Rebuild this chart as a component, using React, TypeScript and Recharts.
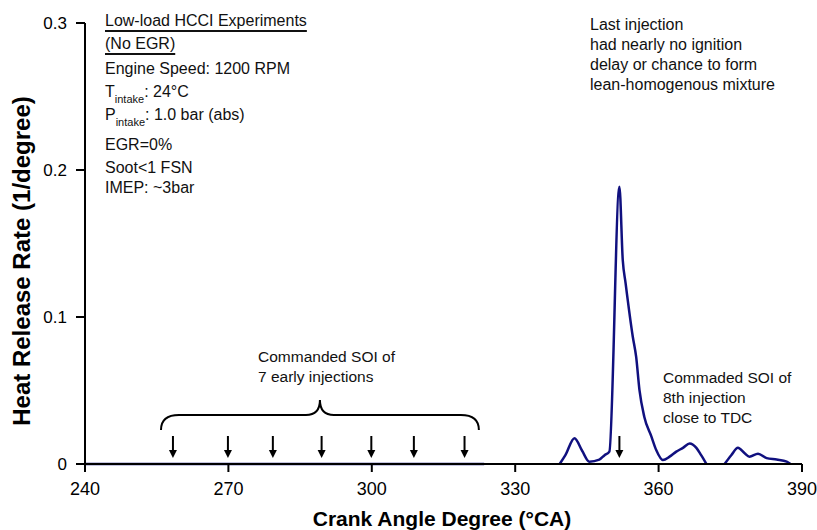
import React from 'react'
import { LineChart, Line, XAxis, YAxis, ReferenceDot, ReferenceArea } from 'recharts'

// crank angle (deg CA) and heat release rate (1/deg); null = gap in trace
const crankAngle = [
  240, 323.5, 330, 339.3, 340.5, 342.4, 344, 345.5, 347.6, 348.7, 349.7, 351.8, 352.5, 353.1, 354.6, 355.3,
  356.0, 357.0, 358.5, 359.5, 360.9, 362.3, 363.7, 365.1, 366.5, 367.9, 368.9, 370.0, 372, 373.8, 375.2,
  376.6, 378.0, 379.0, 380.8, 382.6, 384.7, 386.8, 387.6,
]
const heatRelease = [
  0, 0, null, 0, 0.006, 0.0175, 0.009, 0.0016, 0.003, 0.006, 0.0084, 0.1886, 0.1388, 0.1229, 0.0866, 0.073,
  0.0503, 0.0322, 0.0186, 0.0095, 0.0027, 0.005, 0.0084, 0.011, 0.014, 0.011, 0.006, 0, null, 0, 0.006,
  0.011, 0.0073, 0.005, 0.007, 0.004, 0.003, 0.0016, 0,
]

const xTicks = [240, 270, 300, 330, 360, 390]
const yTicks = [0, 0.1, 0.2, 0.3]

// commanded start of injection
const earlySOI = [258.4, 269.9, 279.3, 289.5, 299.9, 308.8, 319.4]
const lateSOI = [351.8]
const braceSpan = [255.9, 322.4]
const braceHeight = [0.0231, 0.0435]

const data = crankAngle.map((ca, i) => ({ ca, hrr: heatRelease[i] }))

const FONT = '"Liberation Sans", Arial, Helvetica, sans-serif'
const LINE = '#10107f'

const Arrow = (props: any) => {
  const { cx, cy } = props
  return (
    <g>
      <line x1={cx} y1={cy - 28} x2={cx} y2={cy - 12} stroke="#000" strokeWidth={2} />
      <path d={`M${cx - 4},${cy - 14} L${cx + 4},${cy - 14} L${cx},${cy - 6} Z`} fill="#000" />
    </g>
  )
}

const Brace = (props: any) => {
  const { x, y, width, height } = props
  const yb = y + height
  const ym = y + height / 2
  const cx = x + width / 2
  const r = 18
  const d = [
    `M${x},${yb}`,
    `Q${x},${ym} ${x + r},${ym}`,
    `L${cx - 14},${ym}`,
    `Q${cx},${ym} ${cx},${y}`,
    `Q${cx},${ym} ${cx + 14},${ym}`,
    `L${x + width - r},${ym}`,
    `Q${x + width},${ym} ${x + width},${yb}`,
  ].join(' ')
  return <path d={d} fill="none" stroke="#000" strokeWidth={2} />
}

const Note = ({ x, y, size = 16, children, style }: any) => (
  <div
    style={{
      position: 'absolute',
      left: x,
      top: y - 10,
      height: 20,
      lineHeight: '20px',
      fontSize: size,
      fontFamily: FONT,
      color: '#111',
      whiteSpace: 'nowrap',
      ...style,
    }}
  >
    {children}
  </div>
)

const Sub = ({ children }: any) => (
  <span style={{ fontSize: 11, position: 'relative', top: 5.5 }}>{children}</span>
)

const underline = { textDecoration: 'underline', textUnderlineOffset: '3.5px', textDecorationThickness: '1.5px' }

export default function App() {
  return (
    <div style={{ position: 'absolute', left: 0, top: 0, width: 817, height: 530, background: '#fff' }}>
      <LineChart width={817} height={530} data={data} margin={{ top: 23, right: 15, bottom: 0, left: 0 }}>
        <XAxis
          dataKey="ca"
          type="number"
          domain={[240, 390]}
          ticks={xTicks}
          height={66}
          tickSize={8}
          tickMargin={10}
          axisLine={{ stroke: '#000', strokeWidth: 2 }}
          tickLine={{ stroke: '#000', strokeWidth: 2 }}
          tick={{ fill: '#000', fontSize: 18, fontFamily: FONT }}
        />
        <YAxis
          type="number"
          domain={[0, 0.3]}
          ticks={yTicks}
          width={85}
          tickSize={9}
          tickMargin={9}
          axisLine={{ stroke: '#000', strokeWidth: 2 }}
          tickLine={{ stroke: '#000', strokeWidth: 2 }}
          tick={{ fill: '#000', fontSize: 17, fontFamily: FONT }}
        />
        <ReferenceArea
          x1={braceSpan[0]}
          x2={braceSpan[1]}
          y1={braceHeight[0]}
          y2={braceHeight[1]}
          shape={<Brace />}
        />
        {earlySOI.concat(lateSOI).map((ca) => (
          <ReferenceDot key={ca} x={ca} y={0} shape={<Arrow />} />
        ))}
        <Line
          type="monotone"
          dataKey="hrr"
          stroke={LINE}
          strokeWidth={2.5}
          dot={false}
          activeDot={false}
          connectNulls={false}
          isAnimationActive={false}
        />
      </LineChart>

      <Note x={105} y={20.7} style={underline}>Low-load HCCI Experiments</Note>
      <Note x={105} y={44} style={underline}>(No EGR)</Note>
      <Note x={105} y={69}>Engine Speed: 1200 RPM</Note>
      <Note x={105} y={92}>
        T<Sub>intake</Sub>: 24°C
      </Note>
      <Note x={105} y={115}>
        P<Sub>intake</Sub>: 1.0 bar (abs)
      </Note>
      <Note x={105} y={144.5}>EGR=0%</Note>
      <Note x={105} y={167.5}>Soot&lt;1 FSN</Note>
      <Note x={105} y={187.5}>IMEP: ~3bar</Note>

      <Note x={590} y={25}>Last injection</Note>
      <Note x={590} y={45}>had nearly no ignition</Note>
      <Note x={590} y={65}>delay or chance to form</Note>
      <Note x={590} y={85}>lean-homogenous mixture</Note>

      <Note x={258} y={357} size={15.5}>Commanded SOI of</Note>
      <Note x={258} y={377} size={15.5}>7 early injections</Note>

      <Note x={663} y={378} size={15.5}>Commaded SOI of</Note>
      <Note x={663} y={398} size={15.5}>8th injection</Note>
      <Note x={663} y={418} size={15.5}>close to TDC</Note>

      <div
        style={{
          position: 'absolute',
          left: 22,
          top: 261,
          transform: 'translate(-50%, -50%) rotate(-90deg)',
          fontFamily: FONT,
          fontWeight: 'bold',
          fontSize: 24,
          whiteSpace: 'nowrap',
          color: '#000',
        }}
      >
        Heat Release Rate (1/degree)
      </div>
      <div
        style={{
          position: 'absolute',
          left: 442,
          top: 519,
          transform: 'translate(-50%, -50%)',
          fontFamily: FONT,
          fontWeight: 'bold',
          fontSize: 21,
          whiteSpace: 'nowrap',
          color: '#000',
        }}
      >
        Crank Angle Degree (°CA)
      </div>
    </div>
  )
}
